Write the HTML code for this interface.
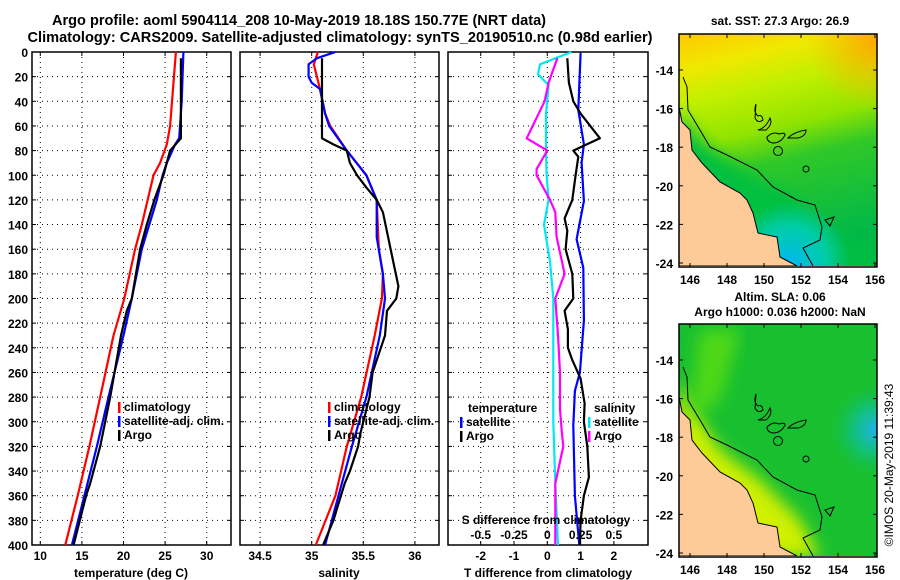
<!DOCTYPE html>
<html><head><meta charset="utf-8"><style>
html,body{margin:0;padding:0;background:#fff;}
svg{display:block;font-family:"Liberation Sans",Arial,sans-serif;font-weight:bold;}
</style></head><body>
<svg id="fig" width="900" height="580" viewBox="0 0 900 580">
<defs>
<linearGradient id="sstG" x1="0" y1="0" x2="0.2" y2="1">
<stop offset="0" stop-color="#ffc800"/><stop offset="0.15" stop-color="#f0e800"/><stop offset="0.3" stop-color="#c0f000"/><stop offset="0.48" stop-color="#90e400"/><stop offset="0.62" stop-color="#30c828"/><stop offset="1" stop-color="#00b848"/></linearGradient>
<radialGradient id="sstC" cx="790" cy="262" r="60" gradientUnits="userSpaceOnUse"><stop offset="0" stop-color="#00b8f0"/><stop offset="0.6" stop-color="#00d0c0" stop-opacity="0.8"/><stop offset="1" stop-color="#00d0c0" stop-opacity="0"/></radialGradient>
<radialGradient id="sstO" cx="875" cy="40" r="70" gradientUnits="userSpaceOnUse"><stop offset="0" stop-color="#ffa800"/><stop offset="1" stop-color="#ffb800" stop-opacity="0"/></radialGradient>
<radialGradient id="slaC" cx="876" cy="430" r="45" gradientUnits="userSpaceOnUse"><stop offset="0" stop-color="#20b0f0"/><stop offset="0.5" stop-color="#10c0a0" stop-opacity="0.7"/><stop offset="1" stop-color="#10c060" stop-opacity="0"/></radialGradient>
<filter id="blur8"><feGaussianBlur stdDeviation="8"/></filter>
<clipPath id="clipTop"><rect x="679" y="34" width="198" height="232"/></clipPath>
<clipPath id="clipBot"><rect x="679" y="324" width="198" height="232"/></clipPath>
</defs>
<g id="titles" font-size="15" text-anchor="middle">
<text x="299" y="25" textLength="494" lengthAdjust="spacingAndGlyphs">Argo profile: aoml 5904114_208 10-May-2019 18.18S 150.77E (NRT data)</text>
<text x="340" y="42" textLength="625" lengthAdjust="spacingAndGlyphs">Climatology: CARS2009. Satellite-adjusted climatology: synTS_20190510.nc (0.98d earlier)</text>
</g>
<g id="maps"></g>
<g id="panels"></g>
<text transform="translate(893,465) rotate(-90)" text-anchor="middle" font-size="12" font-weight="normal">©IMOS 20-May-2019 11:39:43</text>
</svg>
<script>
// ---------- data ----------
const tDepthClim=[0,60,75,90,100,140,160,200,230,280,320,360,400];
const tClim=[26.3,25.6,25.2,24.4,23.6,22.2,21.4,20.1,18.8,17.2,15.9,14.5,13.0];
const tDepthSat=[0,40,70,75,90,100,120,160,200,230,280,320,360,400];
const tSat=[27.2,27.0,26.7,26.2,25.2,24.7,24.0,22.2,21.0,20.0,18.2,16.8,15.3,13.8];
const tDepthArgo=[5,70,80,100,120,140,160,200,210,230,280,320,350,360,400];
const tArgo=[26.9,26.9,25.6,24.8,23.7,22.8,22.0,21.0,20.4,19.7,18.4,17.2,16.0,15.5,14.0];
const sDepthClim=[0,10,30,50,60,80,100,120,160,180,200,230,280,320,360,400];
const sClim=[35.06,35.02,35.08,35.13,35.18,35.34,35.53,35.63,35.65,35.69,35.68,35.61,35.48,35.34,35.23,35.04];
const sDepthSat=[0,5,10,20,25,30,50,60,80,100,120,150,180,200,230,280,320,360,400];
const sSat=[35.23,35.05,34.97,34.97,35.0,35.08,35.13,35.17,35.34,35.53,35.63,35.63,35.69,35.71,35.66,35.53,35.39,35.26,35.13];
const sDepthArgo=[5,70,75,80,90,100,110,120,130,170,190,200,210,230,260,280,310,320,340,350,380,400];
const sArgo=[35.10,35.10,35.21,35.34,35.37,35.44,35.53,35.63,35.69,35.79,35.84,35.82,35.73,35.71,35.59,35.56,35.47,35.45,35.37,35.32,35.21,35.11];
const dtDepthSat=[1,47,75,90,121,152,175,218,260,275,303,360,400];
const dtSat=[1.0,0.93,1.1,1.03,1.1,0.88,1.08,1.1,0.98,0.83,0.78,0.83,0.96];
const dtDepthArgo=[5,25,40,50,70,80,85,100,120,135,145,160,180,200,210,225,240,250,265,285,300,320,345,360,380,400];
const dtArgo=[0.6,0.65,0.78,1.0,1.58,0.78,0.93,0.85,0.75,0.52,0.6,0.55,0.75,0.78,0.52,0.62,0.62,0.75,1.0,1.12,1.1,1.2,1.25,1.1,1.0,0.98];
const dsDepthSat=[0,10,18,27,50,80,100,120,140,170,200,250,300,350,400];
const dsSat=[0.18,-0.055,-0.07,0.01,-0.01,-0.01,-0.005,0.01,-0.025,0.02,0.045,0.045,0.045,0.06,0.08];
const dsDepthArgo=[5,25,40,70,80,95,100,120,130,150,180,200,230,260,290,310,320,350,380,400];
const dsArgo=[0.075,0.01,-0.02,-0.155,0,-0.08,-0.08,0.02,0.06,0.07,0.13,0.06,0.08,0.095,0.095,0.11,0.12,0.06,0.06,0.06];
const depthTicks=[0,20,40,60,80,100,120,140,160,180,200,220,240,260,280,300,320,340,360,380,400];
const tTicks=[10,15,20,25,30];
const sTicks=[34.5,35,35.5,36];
const dTTicks=[-2,-1,0,1,2];
const dSTicks=[-0.5,-0.25,0,0.25,0.5];
const dSTickLabels=["-0.5","-0.25","0","0.25","0.5"];
const lonTicks=[146,148,150,152,154,156];
const latTicks=[-14,-16,-18,-20,-22,-24];

const NS='http://www.w3.org/2000/svg';
function mk(tag,attrs,parent){const e=document.createElementNS(NS,tag);for(const k in attrs)e.setAttribute(k,attrs[k]);if(parent)parent.appendChild(e);return e;}
const Y0=52,Y1=545;
const yD=d=>Y0+(Y1-Y0)*d/400;
const xT=v=>40.3+(v-10)*8.32;
const xS=v=>311.7+(v-35)*103.2;
const xDT=v=>547.3+v*33.3;
const xDS=v=>547.3+v*133.2;
const panels=document.getElementById('panels');

function frame(x0,x1,name){
  const g=mk('g',{},panels);
  
  
  return g;
}
function grid(g,x0,x1,xs){
  depthTicks.forEach(d=>{if(d>0&&d<400){const l=mk('line',{x1:x0,x2:x1,y1:yD(d),y2:yD(d),stroke:'#000','stroke-width':1,'stroke-dasharray':'1 4'},g);}
    mk('line',{x1:x0,x2:x0+4,y1:yD(d),y2:yD(d),stroke:'#000'},g);mk('line',{x1:x1-4,x2:x1,y1:yD(d),y2:yD(d),stroke:'#000'},g);});
  xs.forEach(x=>{const l=mk('line',{x1:x,x2:x,y1:Y0,y2:Y1,stroke:'#000','stroke-width':1,'stroke-dasharray':'1 4'},g);
    mk('line',{x1:x,x2:x,y1:Y1,y2:Y1-4,stroke:'#000'},g);mk('line',{x1:x,x2:x,y1:Y0,y2:Y0+4,stroke:'#000'},g);});
  const r=mk('rect',{x:x0,y:Y0,width:x1-x0,height:Y1-Y0,fill:'none',stroke:'#000','stroke-width':1.5},g);
  
}
function series(g,depths,vals,xf,color,name){
  const pts=depths.map((d,i)=>xf(vals[i]).toFixed(1)+','+yD(d).toFixed(1)).join(' ');
  const p=mk('polyline',{points:pts,fill:'none',stroke:color,'stroke-width':2.2,'stroke-linejoin':'round'},g);
  
  
}
function txt(g,x,y,s,anchor,size,name){
  const t=mk('text',{x:x,y:y,'text-anchor':anchor||'middle','font-size':size||12},g);t.textContent=s;
  
  
  return t;
}
function legendEntry(g,x,y,color,label){
  const e=mk('g',{},g);
  
  
  mk('rect',{x:x,y:y-9,width:2.5,height:11,fill:color},e);
  txt(e,x+6,y,label,'start',12,'legend-label');
}

// Panel 1 temperature
let g1=frame(32,231,'temperature-panel');
grid(g1,32,231,tTicks.map(xT));
depthTicks.forEach(d=>txt(g1,28,yD(d)+5,String(d),'end',12,'y-tick-label'));
tTicks.forEach(v=>txt(g1,xT(v),560,String(v),'middle',12,'x-tick-label'));
txt(g1,131,577,'temperature (deg C)','middle',12,'x-axis-title');
series(g1,tDepthClim,tClim,xT,'#ff0000','climatology-line');
series(g1,tDepthSat,tSat,xT,'#0000ff','satellite-line');
series(g1,tDepthArgo,tArgo,xT,'#000000','argo-line');
legendEntry(g1,118,411,'#ff0000','climatology');
legendEntry(g1,118,425,'#0000ff','satellite-adj. clim.');
legendEntry(g1,118,439,'#000000','Argo');

// Panel 2 salinity
let g2=frame(240,439,'salinity-panel');
grid(g2,240,439,sTicks.map(xS));
sTicks.forEach(v=>txt(g2,xS(v),560,String(v),'middle',12,'x-tick-label'));
txt(g2,339,577,'salinity','middle',12,'x-axis-title');
series(g2,sDepthClim,sClim,xS,'#ff0000','climatology-line');
series(g2,sDepthSat,sSat,xS,'#0000ff','satellite-line');
series(g2,sDepthArgo,sArgo,xS,'#000000','argo-line');
legendEntry(g2,328,411,'#ff0000','climatology');
legendEntry(g2,328,425,'#0000ff','satellite-adj. clim.');
legendEntry(g2,328,439,'#000000','Argo');

// Panel 3 differences
let g3=frame(448,648,'difference-panel');
grid(g3,448,648,dTTicks.map(xDT));
dTTicks.forEach(v=>txt(g3,xDT(v),560,String(v),'middle',12,'x-tick-label'));
txt(g3,548,577,'T difference from climatology','middle',12,'x-axis-title');
series(g3,dsDepthSat,dsSat,xDS,'#00e8f0','salinity-satellite-line');
series(g3,dsDepthArgo,dsArgo,xDS,'#ff00ff','salinity-argo-line');
series(g3,dtDepthSat,dtSat,xDT,'#0000ff','temperature-satellite-line');
series(g3,dtDepthArgo,dtArgo,xDT,'#000000','temperature-argo-line');
txt(g3,546,524,'S difference from climatology','middle',12,'s-axis-title');
dSTicks.forEach((v,i)=>txt(g3,xDS(v),539,dSTickLabels[i],'middle',12,'s-tick-label'));
txt(g3,468,412,'temperature','start',12,'legend-title');
legendEntry(g3,460,426,'#0000ff','satellite');
legendEntry(g3,460,440,'#000000','Argo');
txt(g3,594,412,'salinity','start',12,'legend-title');
legendEntry(g3,588,426,'#00e8f0','satellite');
legendEntry(g3,588,440,'#ff00ff','Argo');

// ---------- maps ----------
const maps=document.getElementById('maps');
function lonX(l){return 690+(l-146)*18.5;}
function mapAxes(g,top,latY){
  mk('rect',{x:679,y:top,width:198,height:233,fill:'none',stroke:'#000','stroke-width':1.5},g);
  lonTicks.forEach(l=>{mk('line',{x1:lonX(l),x2:lonX(l),y1:top+233,y2:top+229,stroke:'#000'},g);mk('line',{x1:lonX(l),x2:lonX(l),y1:top,y2:top+4,stroke:'#000'},g);txt(g,lonX(l),top+250,String(l),'middle',12,'lon-tick-label');});
  latTicks.forEach(l=>{const y=latY(l);mk('line',{x1:679,x2:683,y1:y,y2:y,stroke:'#000'},g);mk('line',{x1:877,x2:873,y1:y,y2:y,stroke:'#000'},g);txt(g,673,y+5,String(l),'end',12,'lat-tick-label');});
}
function geo(g,dy){
  const land='M679,'+(107+dy)+' L682,'+(122+dy)+' L690,'+(130+dy)+' L692,'+(150+dy)+' L702,'+(163+dy)+' L720,'+(182+dy)+' L740,'+(193+dy)+' L747,'+(200+dy)+' L753,'+(213+dy)+' L758,'+(233+dy)+' L777,'+(237+dy)+' L780,'+(257+dy)+' L797,'+(266+dy)+' L679,'+(266+dy)+' Z';
  const l=mk('path',{d:land,fill:'#fdca98',stroke:'#000','stroke-width':1},g);
  
  const shelf=[[683,77],[687,87],[688,110],[700,130],[710,147],[727,155],[757,170],[773,187],[797,200],[815,205],[822,227],[820,240],[803,248],[813,266]];
  const c=mk('polyline',{points:shelf.map(p=>p[0]+','+(p[1]+dy)).join(' '),fill:'none',stroke:'#000','stroke-width':1},g);
  
  mk('circle',{cx:778,cy:151+dy,r:4.5,fill:'none',stroke:'#000'},g);
  mk('circle',{cx:806,cy:169+dy,r:3,fill:'none',stroke:'#000'},g);
  mk('path',{d:'M825,'+(220+dy)+' L834,'+(217+dy)+' L830,'+(226+dy)+' Z',fill:'none',stroke:'#000'},g);
  mk('path',{d:'M756,'+(104+dy)+' q-3,8 2,12 q4,-2 5,4 q-5,4 -8,-2 z',fill:'none',stroke:'#000'},g);
  mk('path',{d:'M758,'+(130+dy)+' q8,-2 12,-12 q3,6 -4,12 z',fill:'none',stroke:'#000'},g);
  mk('path',{d:'M767,'+(137+dy)+' q6,-6 12,-3 q6,-2 6,1 q-4,8 -12,8 q-6,-1 -6,-6 z',fill:'none',stroke:'#000'},g);
  mk('path',{d:'M788,'+(138+dy)+' q6,-6 18,-8 q0,6 -8,8 z',fill:'none',stroke:'#000'},g);
}
// top map
let m1=mk('g',{'clip-path':'url(#clipTop)'},maps);


mk('rect',{x:679,y:34,width:198,height:233,fill:'url(#sstG)'},m1);
mk('rect',{x:679,y:34,width:198,height:233,fill:'url(#sstO)'},m1);
mk('path',{d:'M679,110 L700,140 L740,170 L800,200 L830,240 L877,250 L877,266 L679,266 Z',fill:'#00c040',filter:'url(#blur8)'},m1);
mk('rect',{x:679,y:34,width:198,height:233,fill:'url(#sstC)'},m1);
geo(m1,0);
let ma1=mk('g',{},maps);


mapAxes(ma1,34,l=>70+(-14-l)*19.3);
txt(ma1,780,25,'sat. SST: 27.3 Argo: 26.9','middle',12,'sst-map-title');
// bottom map
let m2=mk('g',{'clip-path':'url(#clipBot)'},maps);


mk('rect',{x:679,y:324,width:198,height:233,fill:'#18c030'},m2);
mk('rect',{x:679,y:324,width:198,height:233,fill:'url(#slaC)'},m2);
mk('path',{d:'M679,380 L700,420 L720,450 L760,480 L800,520 L820,557 L679,557 Z',fill:'#d0f000',filter:'url(#blur8)'},m2);
mk('path',{d:'M700,330 L740,330 L720,400 L690,420 Z',fill:'#50d818',filter:'url(#blur8)'},m2);
geo(m2,290);
let ma2=mk('g',{},maps);


mapAxes(ma2,324,l=>360+(-14-l)*19.3);
txt(ma2,780,301,'Altim. SLA: 0.06','middle',12,'sla-map-title');
txt(ma2,780,316,'Argo h1000: 0.036 h2000: NaN','middle',12,'sla-map-subtitle');
</script>
</body></html>
